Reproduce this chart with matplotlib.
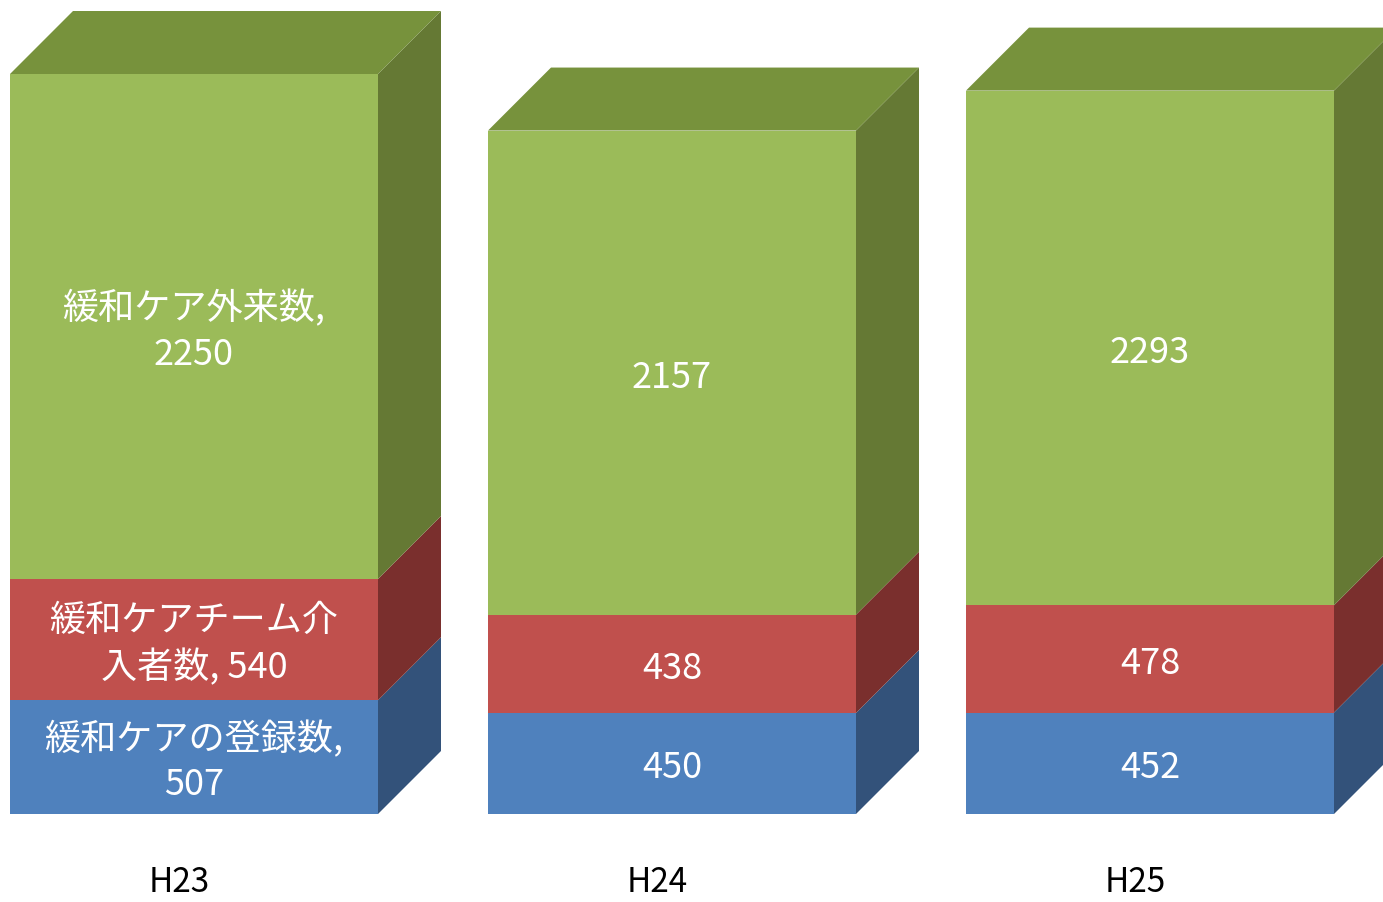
import matplotlib
matplotlib.use("Agg")
import matplotlib.pyplot as plt
from matplotlib.patches import Polygon, Rectangle

plt.rcParams['font.family'] = ['Noto Sans CJK JP', 'DejaVu Sans']

categories = ["H23", "H24", "H25"]
series_names = ["緩和ケアの登録数", "緩和ケアチーム介入者数", "緩和ケア外来数"]
registered = [507, 450, 452]
team = [540, 438, 478]
outpatient = [2250, 2157, 2293]

# label text for H23 shows series name, others value only
labels_h23 = ["緩和ケアの登録数,\n507", "緩和ケアチーム介\n入者数, 540", "緩和ケア外来数,\n2250"]

front_colors = ["#4F81BD", "#C0504D", "#9BBB59"]
side_colors = ["#33527A", "#7A2F2D", "#657934"]
top_color = "#77923C"

fig = plt.figure(figsize=(13.83, 9.03), dpi=100)
ax = fig.add_axes([0, 0, 1, 1])
ax.axis('off')

px_per_x = 478.0
px_per_y = 740.0 / (registered[0] + team[0] + outpatient[0])
ax.set_xlim(-194 / px_per_x, (1383 - 194) / px_per_x)
ax.set_ylim(-88 / px_per_y, 815 / px_per_y)

width = 368 / px_per_x
dx = 63 / px_per_x
dy = 63 / px_per_y
nudge = 4 / px_per_y

stacks = [registered, team, outpatient]
for i, cat in enumerate(categories):
    left = i - width / 2
    right = i + width / 2
    base = 0
    for j, vals in enumerate(stacks):
        v = vals[i]
        top = base + v
        side = Polygon([(right, base), (right + dx, base + dy),
                        (right + dx, top + dy), (right, top)],
                       closed=True, facecolor=side_colors[j], edgecolor='none')
        ax.add_patch(side)
        ax.add_patch(Rectangle((left, base), width, v,
                               facecolor=front_colors[j], edgecolor='none'))
        if i == 0:
            txt = labels_h23[j]
        else:
            txt = str(v)
        ax.text(i, base + v / 2 - nudge, txt, ha='center', va='center',
                color='white', fontsize=26, linespacing=1.32)
        base = top
    ax.add_patch(Polygon([(left, base), (right, base), (right + dx, base + dy),
                          (left + dx, base + dy)],
                         closed=True, facecolor=top_color, edgecolor='none'))
    ax.text(i - 0.03, -68 / px_per_y, cat, ha='center', va='center',
            color='black', fontsize=24)

fig.savefig("out.png", dpi=100)
